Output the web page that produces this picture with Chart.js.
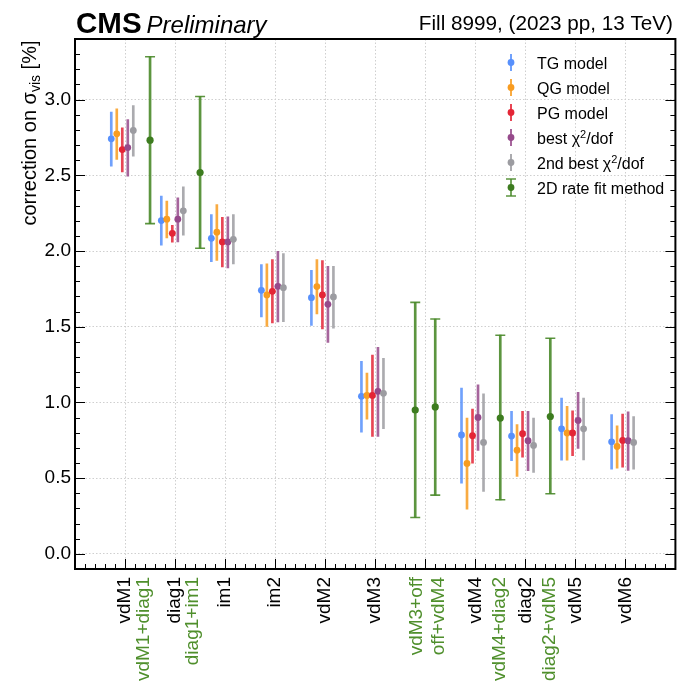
<!DOCTYPE html>
<html>
<head>
<meta charset="utf-8">
<script src="https://cdn.jsdelivr.net/npm/chart.js@4.4.0/dist/chart.umd.min.js"></script>
<style>
  html, body { margin: 0; padding: 0; background: #fff; }
  #wrap { width: 682px; height: 681px; }
</style>
</head>
<body>
<div id="wrap"><canvas id="c" width="682" height="681"></canvas></div>
<script>
// scans and where they sit on the x axis
const scanNames = ['vdM1', 'diag1', 'im1', 'im2', 'vdM2', 'vdM3', 'vdM4', 'diag2', 'vdM5', 'vdM6'];
const scanPos = [1, 2, 3, 4, 5, 6, 8, 9, 10, 11];
const modelOffsets = [-0.275, -0.165, -0.055, 0.055, 0.165];

// TG model
const tgVal = [2.741, 2.201, 2.084, 1.740, 1.692, 1.040, 0.785, 0.778, 0.826, 0.740];
const tgLo  = [2.560, 2.038, 1.930, 1.564, 1.509, 0.804, 0.467, 0.615, 0.619, 0.560];
const tgHi  = [2.917, 2.362, 2.240, 1.910, 1.873, 1.271, 1.095, 0.941, 1.029, 0.919];
// QG model
const qgVal = [2.774, 2.210, 2.124, 1.710, 1.765, 1.046, 0.597, 0.685, 0.798, 0.709];
const qgLo  = [2.604, 2.087, 1.937, 1.502, 1.584, 0.890, 0.295, 0.511, 0.619, 0.566];
const qgHi  = [2.939, 2.329, 2.307, 1.915, 1.943, 1.194, 0.897, 0.853, 0.974, 0.846];
// PG model
const pgVal = [2.670, 2.117, 2.060, 1.734, 1.710, 1.046, 0.780, 0.793, 0.798, 0.749];
const pgLo  = [2.523, 2.058, 1.895, 1.525, 1.485, 0.775, 0.599, 0.639, 0.648, 0.573];
const pgHi  = [2.813, 2.170, 2.223, 1.943, 1.937, 1.313, 0.956, 0.941, 0.945, 0.923];
// best chi2/dof
const bestVal = [2.683, 2.210, 2.060, 1.767, 1.648, 1.073, 0.901, 0.747, 0.881, 0.747];
const bestLo  = [2.494, 2.060, 1.888, 1.531, 1.397, 0.775, 0.683, 0.549, 0.696, 0.551];
const bestHi  = [2.868, 2.351, 2.225, 1.998, 1.899, 1.364, 1.117, 0.941, 1.066, 0.938];
// 2nd best chi2/dof
const secVal = [2.796, 2.265, 2.077, 1.758, 1.697, 1.060, 0.736, 0.716, 0.826, 0.736];
const secLo  = [2.626, 2.104, 1.915, 1.533, 1.491, 0.826, 0.412, 0.537, 0.621, 0.560];
const secHi  = [2.961, 2.424, 2.240, 1.983, 1.899, 1.291, 1.057, 0.897, 1.029, 0.907];

// 2D rate fit method (scan pairs)
const pairPos = [1.5, 2.5, 6.8, 7.2, 8.5, 9.5];
const pairVal = [2.732, 2.518, 0.950, 0.970, 0.897, 0.907];
const pairLo  = [2.181, 2.018, 0.240, 0.388, 0.357, 0.397];
const pairHi  = [3.283, 3.020, 1.661, 1.551, 1.444, 1.424];

// x axis labels
const labelPos   = [1, 1.37, 2, 2.36, 3, 4, 5, 6, 6.84, 7.28, 8, 8.48, 9, 9.49, 10, 11];
const labelText  = ['vdM1', 'vdM1+diag1', 'diag1', 'diag1+im1', 'im1', 'im2', 'vdM2', 'vdM3',
                    'vdM3+off', 'off+vdM4', 'vdM4', 'vdM4+diag2', 'diag2', 'diag2+vdM5', 'vdM5', 'vdM6'];
const labelIsPair = [0, 1, 0, 1, 0, 0, 0, 0, 1, 1, 0, 1, 0, 1, 0, 0];

const yTicks = [0, 0.5, 1, 1.5, 2, 2.5, 3];

const FONT = '"Liberation Sans", Arial, Helvetica, sans-serif';
const GREEN = 'rgba(74,138,42,0.9)';
const GREEN_DOT = '#3d7c1f';
const GREEN_TXT = '#4f8f2c';

const models = [
  { label: 'TG model', color: '#5790fc', bar: 'rgba(87,144,252,0.85)', val: tgVal, lo: tgLo, hi: tgHi },
  { label: 'QG model', color: '#f89c20', bar: 'rgba(248,156,32,0.85)', val: qgVal, lo: qgLo, hi: qgHi },
  { label: 'PG model', color: '#e42536', bar: 'rgba(228,37,54,0.85)', val: pgVal, lo: pgLo, hi: pgHi },
  { label: 'best χ2/dof', color: '#964a8b', bar: 'rgba(150,74,139,0.85)', val: bestVal, lo: bestLo, hi: bestHi },
  { label: '2nd best χ2/dof', color: '#9c9ca1', bar: 'rgba(156,156,161,0.85)', val: secVal, lo: secLo, hi: secHi }
];

const datasets = [];
models.forEach((m, k) => {
  datasets.push({
    type: 'bar',
    data: scanPos.map((p, i) => ({ x: p + modelOffsets[k], y: [m.lo[i], m.hi[i]] })),
    backgroundColor: m.bar,
    borderWidth: 0,
    barThickness: 2,
    grouped: false,
    order: 20 + k
  });
  datasets.push({
    type: 'scatter',
    data: scanPos.map((p, i) => ({ x: p + modelOffsets[k], y: m.val[i] })),
    backgroundColor: m.color,
    borderWidth: 0,
    pointRadius: 3.4,
    order: 5 - k
  });
});
// 2D rate fit: bar, caps, points
datasets.push({
  type: 'bar',
  data: pairPos.map((p, i) => ({ x: p, y: [pairLo[i], pairHi[i]] })),
  backgroundColor: GREEN,
  borderWidth: 0,
  barThickness: 2,
  grouped: false,
  order: 30
});
datasets.push({
  type: 'scatter',
  data: pairPos.map((p, i) => ({ x: p, y: pairLo[i] })).concat(pairPos.map((p, i) => ({ x: p, y: pairHi[i] }))),
  pointStyle: 'line',
  pointRadius: 5,
  borderColor: GREEN,
  borderWidth: 1.6,
  order: 15
});
datasets.push({
  type: 'scatter',
  data: pairPos.map((p, i) => ({ x: p, y: pairVal[i] })),
  backgroundColor: GREEN_DOT,
  borderWidth: 0,
  pointRadius: 3.6,
  order: 0
});

function superText(ctx, parts, x, y) {
  // parts: [text, size, dy]; draws left to right
  let cx = x;
  parts.forEach(([t, size, dy]) => {
    ctx.font = size + 'px ' + FONT;
    ctx.fillText(t, cx, y + dy);
    cx += ctx.measureText(t).width;
  });
}

const decorations = {
  id: 'decorations',
  afterDraw(chart) {
    const ctx = chart.ctx;
    const a = chart.chartArea;
    const xs = chart.scales.x, ys = chart.scales.y;
    ctx.save();

    // inward ticks: left, right, bottom
    ctx.strokeStyle = '#000';
    ctx.lineWidth = 1;
    ctx.beginPath();
    for (let k = 0; k <= 34; k++) {
      const v = k / 10;
      const py = Math.round(ys.getPixelForValue(v)) + 0.5;
      const len = (k % 5 === 0) ? 10 : 5;
      ctx.moveTo(a.left, py); ctx.lineTo(a.left + len, py);
      ctx.moveTo(a.right, py); ctx.lineTo(a.right - len, py);
    }
    for (let k = 1; k < 60; k++) {
      const v = k / 5;
      const px = Math.round(xs.getPixelForValue(v)) + 0.5;
      const len = (k % 5 === 0) ? 10 : 5;
      ctx.moveTo(px, a.bottom); ctx.lineTo(px, a.bottom - len);
    }
    ctx.stroke();

    // frame
    ctx.lineWidth = 2;
    ctx.strokeRect(a.left, a.top, a.right - a.left, a.bottom - a.top);

    // x labels
    ctx.font = '19px ' + FONT;
    ctx.textAlign = 'right';
    ctx.textBaseline = 'middle';
    labelPos.forEach((p, i) => {
      const px = xs.getPixelForValue(p);
      ctx.save();
      ctx.translate(px, a.bottom + 8);
      ctx.rotate(-Math.PI / 2);
      ctx.fillStyle = labelIsPair[i] ? GREEN_TXT : '#000';
      ctx.fillText(labelText[i], 0, 0);
      ctx.restore();
    });

    // y title
    ctx.save();
    ctx.translate(36, a.top + 1.5);
    ctx.rotate(-Math.PI / 2);
    ctx.textAlign = 'left';
    ctx.textBaseline = 'alphabetic';
    ctx.fillStyle = '#000';
    const tparts = [['correction on σ', 20, 0], ['vis', 14, 4], [' [%]', 20, 0]];
    let tw = 0;
    tparts.forEach(([t, s]) => { ctx.font = s + 'px ' + FONT; tw += ctx.measureText(t).width; });
    superText(ctx, tparts, -tw, 0);
    ctx.restore();

    // header
    ctx.fillStyle = '#000';
    ctx.textBaseline = 'alphabetic';
    ctx.textAlign = 'left';
    ctx.font = 'bold 29.5px ' + FONT;
    ctx.fillText('CMS', 76, 33);
    const cmsW = ctx.measureText('CMS').width;
    ctx.font = 'italic 24px ' + FONT;
    ctx.fillText('Preliminary', 76 + cmsW + 5, 33);
    ctx.textAlign = 'right';
    ctx.font = '20.7px ' + FONT;
    ctx.fillText('Fill 8999, (2023 pp, 13 TeV)', 673, 30);

    // legend
    const lx = 511, ltx = 537;
    const rows = [
      { color: models[0].color, parts: [['TG model', 16, 0]] },
      { color: models[1].color, parts: [['QG model', 16, 0]] },
      { color: models[2].color, parts: [['PG model', 16, 0]] },
      { color: models[3].color, parts: [['best χ', 16, 0], ['2', 11, -6], ['/dof', 16, 0]] },
      { color: models[4].color, parts: [['2nd best χ', 16, 0], ['2', 11, -6], ['/dof', 16, 0]] },
      { color: GREEN, dot: GREEN_DOT, caps: true, parts: [['2D rate fit method', 16, 0]] }
    ];
    rows.forEach((r, i) => {
      const cy = 62.5 + i * 25;
      ctx.fillStyle = r.color;
      ctx.globalAlpha = 0.85;
      ctx.fillRect(lx - 1, cy - 8.5, 2, 17);
      ctx.globalAlpha = 1;
      if (r.caps) {
        ctx.strokeStyle = r.color;
        ctx.lineWidth = 1.6;
        ctx.beginPath();
        ctx.moveTo(lx - 5, cy - 8.5); ctx.lineTo(lx + 5, cy - 8.5);
        ctx.moveTo(lx - 5, cy + 8.5); ctx.lineTo(lx + 5, cy + 8.5);
        ctx.stroke();
      }
      ctx.fillStyle = r.dot || r.color;
      ctx.beginPath();
      ctx.arc(lx, cy, 3.4, 0, Math.PI * 2);
      ctx.fill();
      ctx.fillStyle = '#000';
      ctx.textAlign = 'left';
      ctx.textBaseline = 'alphabetic';
      superText(ctx, r.parts, ltx, cy + 6);
    });

    ctx.restore();
  }
};

new Chart(document.getElementById('c'), {
  type: 'scatter',
  data: { datasets },
  options: {
    responsive: false,
    animation: false,
    layout: { padding: { top: 39, right: 1, left: 0, bottom: 0 } },
    plugins: { legend: { display: false }, tooltip: { enabled: false } },
    scales: {
      x: {
        type: 'linear', min: 0, max: 12, offset: false,
        ticks: { display: false, stepSize: 1 },
        grid: { color: '#cfcfcf', lineWidth: 1, drawTicks: false, offset: false },
        border: { display: false, dash: [1.5, 2] },
        afterFit: s => { s.height = 112; }
      },
      y: {
        type: 'linear', min: -0.1, max: 3.4,
        afterBuildTicks: s => { s.ticks = yTicks.map(v => ({ value: v })); },
        ticks: { padding: 4, color: '#000', font: { family: FONT, size: 19 }, callback: v => v.toFixed(1) },
        grid: { color: '#cfcfcf', lineWidth: 1, drawTicks: false },
        border: { display: false, dash: [1.5, 2] },
        afterFit: s => { s.width = 75; }
      }
    }
  },
  plugins: [decorations]
});
</script>
</body>
</html>
